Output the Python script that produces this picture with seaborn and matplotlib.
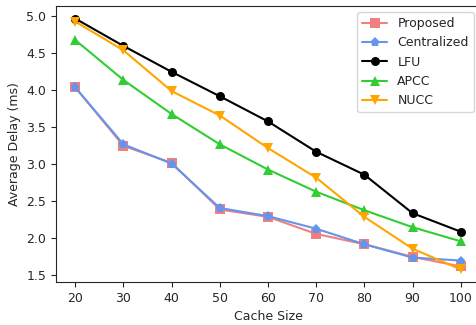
import pandas as pd
import matplotlib
matplotlib.use('Agg')
import matplotlib.pyplot as plt
import seaborn as sns

cache_size = [20, 30, 40, 50, 60, 70, 80, 90, 100]
proposed = [4.04, 3.25, 3.02, 2.39, 2.29, 2.06, 1.92, 1.75, 1.62]
centralized = [4.04, 3.27, 3.01, 2.41, 2.30, 2.13, 1.92, 1.74, 1.70]
lfu = [4.97, 4.60, 4.25, 3.92, 3.58, 3.17, 2.86, 2.34, 2.09]
apcc = [4.68, 4.14, 3.68, 3.27, 2.93, 2.63, 2.38, 2.15, 1.96]
nucc = [4.93, 4.54, 3.99, 3.66, 3.22, 2.82, 2.29, 1.86, 1.58]

methods = ['Proposed', 'Centralized', 'LFU', 'APCC', 'NUCC']
series = [proposed, centralized, lfu, apcc, nucc]

rows = []
for name, vals in zip(methods, series):
    for x, y in zip(cache_size, vals):
        rows.append({'Cache Size': x, 'Average Delay (ms)': y, 'Method': name})
df = pd.DataFrame(rows)

palette = {'Proposed': 'lightcoral', 'Centralized': 'cornflowerblue',
           'LFU': 'black', 'APCC': 'limegreen', 'NUCC': 'orange'}
markers = {'Proposed': 's', 'Centralized': 'p', 'LFU': 'o',
           'APCC': '^', 'NUCC': 'v'}

sns.set_style('ticks')
plt.rcParams['font.size'] = 9
fig = plt.figure(figsize=(4.77, 3.25), dpi=100)
ax = fig.add_axes([56/477, 43/325, 424/477, 276/325])

sns.lineplot(
    data=df, x='Cache Size', y='Average Delay (ms)',
    hue='Method', style='Method', hue_order=methods, style_order=methods,
    palette=palette, markers=markers, dashes=False,
    markersize=6.5, markeredgewidth=0, linewidth=1.5, ax=ax
)

ax.set_xticks(cache_size)
ax.set_yticks([1.5, 2.0, 2.5, 3.0, 3.5, 4.0, 4.5, 5.0])
ax.tick_params(labelsize=9)
ax.xaxis.label.set_size(9)
ax.yaxis.label.set_size(9)
ax.set_ylim(1.41, 5.14)
ax.set_xlim(16, 104)
ax.legend(title=None, loc='upper right', fontsize=9, fancybox=True, framealpha=0.8)

fig.savefig('out.png', dpi=100)
